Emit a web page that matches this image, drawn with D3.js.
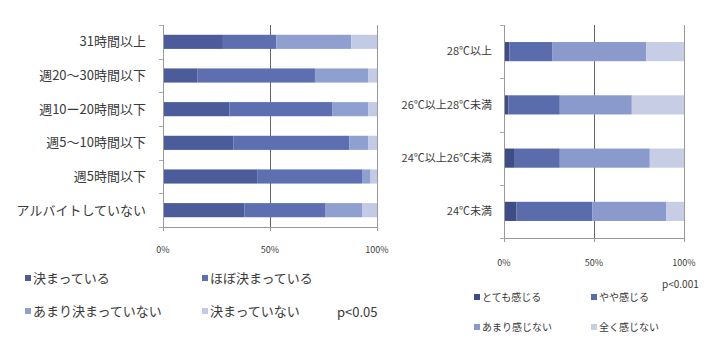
<!DOCTYPE html>
<html><head><meta charset="utf-8">
<script src="https://cdn.jsdelivr.net/npm/d3@7"></script>
<style>body{margin:0;background:#fff}svg{display:block}text{font-family:"Noto Sans CJK JP","Noto Sans",sans-serif;fill:#3a3a3a}</style>
</head><body><svg id="c" width="704" height="342"></svg>
<script>
// Left chart data
const leftCats = ["31時間以上","週20〜30時間以下","週10ー20時間以下","週5〜10時間以下","週5時間以下","アルバイトしていない"];
const leftSeries = ["決まっている","ほぼ決まっている","あまり決まっていない","決まっていない"];
const left1 = [28,16,31,33,44,38];
const left2 = [25,55,48,54,49,38];
const left3 = [35,25,17,9,4,17];
const left4 = [12,4,4,4,3,7];
const leftP = "p<0.05";

// Right chart data
const rightCats = ["28℃以上","26℃以上28℃未満","24℃以上26℃未満","24℃未満"];
const rightSeries = ["とても感じる","やや感じる","あまり感じない","全く感じない"];
const right1 = [3,2.5,6,7];
const right2 = [24,28.5,25,42];
const right3 = [52,40,50,41];
const right4 = [21,29,19,10];
const rightP = "p<0.001";

const ticks = [0,50,100];
const tickLabels = ["0%","50%","100%"];

const svg = d3.select("#c");

function drawChart(o){
  const g = svg.append("g");
  const rows = o.cats.map((c,i)=>{const r={cat:c}; o.series.forEach((s,j)=>r[s]=o.vals[j][i]); return r;});
  const stacked = d3.stack().keys(o.series)(rows);
  const x = d3.scaleLinear().domain([0,100]).range([o.x0,o.x1]);
  const y = d3.scaleBand().domain(o.cats).range([o.y0,o.y1]).paddingInner(o.pad).paddingOuter(o.pad/2);
  // gridlines
  g.selectAll("line.grid").data(ticks.slice(1)).join("line")
    .attr("x1",d=>x(d)+0.5).attr("x2",d=>x(d)+0.5).attr("y1",o.y0).attr("y2",o.y1)
    .attr("stroke",(d,i)=>i===0?"#666":"#999").attr("stroke-width",1);
  // bars
  g.selectAll("g.s").data(stacked).join("g").attr("fill",(d,i)=>o.colors[i])
    .selectAll("rect").data(d=>d).join("rect")
    .attr("x",d=>x(d[0])).attr("width",d=>x(d[1])-x(d[0]))
    .attr("y",d=>y(d.data.cat)).attr("height",y.bandwidth());
  // axes lines
  g.append("line").attr("x1",o.x0+0.5).attr("x2",o.x0+0.5).attr("y1",o.y0).attr("y2",o.y1).attr("stroke","#999");
  g.append("line").attr("x1",o.x0).attr("x2",o.x1+1).attr("y1",o.y1+0.5).attr("y2",o.y1+0.5).attr("stroke","#999");
  // y ticks at band boundaries
  const step = (o.y1-o.y0)/o.cats.length;
  g.selectAll("line.yt").data(d3.range(o.cats.length+1)).join("line")
    .attr("x1",o.x0-4).attr("x2",o.x0).attr("y1",d=>Math.round(o.y0+d*step)+0.5).attr("y2",d=>Math.round(o.y0+d*step)+0.5)
    .attr("stroke","#aaa");
  // x ticks
  g.selectAll("line.xt").data(ticks).join("line")
    .attr("x1",d=>x(d)+0.5).attr("x2",d=>x(d)+0.5).attr("y1",o.y1).attr("y2",o.y1+4).attr("stroke","#999");
  g.selectAll("text.xl").data(ticks).join("text")
    .attr("x",d=>x(d)).attr("y",o.tickY).attr("text-anchor","middle").attr("font-size",o.tickFs)
    .text((d,i)=>tickLabels[i]);
  // category labels
  g.selectAll("text.cl").data(o.cats).join("text")
    .attr("x",o.labelX).attr("y",d=>y(d)+y.bandwidth()/2).attr("dy","0.35em")
    .attr("text-anchor","end").attr("font-size",o.catFs).text(d=>d);
  // legend
  o.series.forEach((s,i)=>{
    const lx = o.legX[i%2], ly = o.legY[Math.floor(i/2)];
    g.append("rect").attr("x",lx).attr("y",ly-3).attr("width",6).attr("height",6).attr("fill",o.colors[i]);
    g.append("text").attr("x",lx+8).attr("y",ly).attr("dy","0.35em").attr("font-size",o.legFs).text(s);
  });
  g.append("text").attr("x",o.pX).attr("y",o.pY).attr("dy","0.35em").attr("font-size",o.pFs).text(o.p);
}

drawChart({
  cats:leftCats, series:leftSeries, vals:[left1,left2,left3,left4],
  colors:["#4c5b99","#5d6fb1","#8f9fd0","#c3cae6"],
  x0:163, x1:377, y0:25, y1:227, pad:0.58,
  tickY:253, tickFs:9, labelX:146, catFs:13,
  legX:[25,202], legY:[278,311], legFs:13,
  p:leftP, pX:337, pY:312, pFs:13
});

drawChart({
  cats:rightCats, series:rightSeries, vals:[right1,right2,right3,right4],
  colors:["#3f4d86","#5b6cad","#8a9acd","#c8cde6"],
  x0:504, x1:684, y0:25, y1:238, pad:0.64,
  tickY:266, tickFs:9, labelX:492, catFs:11,
  legX:[474,591], legY:[297,327], legFs:10,
  p:rightP, pX:662, pY:284, pFs:10
});
</script></body></html>
